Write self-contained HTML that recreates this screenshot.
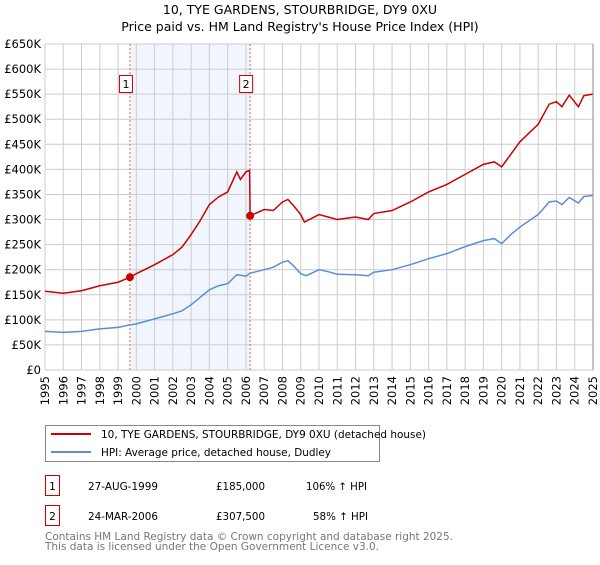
<!DOCTYPE html>
<html><head><meta charset="utf-8"><style>
body{margin:0;background:#fff;font-family:"Liberation Sans","DejaVu Sans",sans-serif;}
svg text{font-family:"DejaVu Sans","Liberation Sans",sans-serif;}
</style></head><body>
<svg id="c" width="600" height="560" xmlns="http://www.w3.org/2000/svg">
<text x="300" y="14" text-anchor="middle" font-size="12.5">10, TYE GARDENS, STOURBRIDGE, DY9 0XU</text>
<text x="300" y="31" text-anchor="middle" font-size="12.5">Price paid vs. HM Land Registry's House Price Index (HPI)</text>
<g id="plot"></g>
<g>
<rect x="45.5" y="425.5" width="334" height="36" fill="#fff" stroke="#888"/>
<line x1="51" y1="434" x2="91" y2="434" stroke="#cc0000" stroke-width="2"/>
<text x="101" y="438" font-size="10.5" textLength="325" lengthAdjust="spacingAndGlyphs">10, TYE GARDENS, STOURBRIDGE, DY9 0XU (detached house)</text>
<line x1="51" y1="452" x2="91" y2="452" stroke="#5b8fd4" stroke-width="2"/>
<text x="101" y="456" font-size="10.5" textLength="230" lengthAdjust="spacingAndGlyphs">HPI: Average price, detached house, Dudley</text>
</g>
<g font-size="10.5">
<rect x="45.5" y="475.5" width="14" height="20" fill="#fff" stroke="#cc0000"/>
<text x="52.5" y="490" text-anchor="middle">1</text>
<text x="88" y="490" textLength="70" lengthAdjust="spacingAndGlyphs">27-AUG-1999</text><text x="216" y="490" textLength="49" lengthAdjust="spacingAndGlyphs">£185,000</text><text x="306" y="490" textLength="61" lengthAdjust="spacingAndGlyphs">106% ↑ HPI</text>
<rect x="45.5" y="505.5" width="14" height="20" fill="#fff" stroke="#cc0000"/>
<text x="52.5" y="520" text-anchor="middle">2</text>
<text x="88" y="520" textLength="70" lengthAdjust="spacingAndGlyphs">24-MAR-2006</text><text x="216" y="520" textLength="49" lengthAdjust="spacingAndGlyphs">£307,500</text><text x="313" y="520" textLength="55" lengthAdjust="spacingAndGlyphs">58% ↑ HPI</text>
</g>
<g font-size="10.5" fill="#777">
<text x="45" y="540" textLength="408" lengthAdjust="spacingAndGlyphs">Contains HM Land Registry data © Crown copyright and database right 2025.</text>
<text x="45" y="550" textLength="334" lengthAdjust="spacingAndGlyphs">This data is licensed under the Open Government Licence v3.0.</text>
</g>
</svg>
<script>
const hpiYears=[1995,1996,1997,1998,1999,1999.65,2000,2001,2002,2002.5,2003,2003.5,2004,2004.5,2005,2005.5,2006,2006.23,2007,2007.5,2008,2008.3,2008.6,2009,2009.3,2010,2010.5,2011,2012,2012.7,2013,2014,2015,2016,2017,2018,2019,2019.6,2020,2020.5,2021,2022,2022.6,2023,2023.3,2023.7,2024.2,2024.5,2025];
const hpiValues=[77,75,77,82,85,90,92,102,112,118,130,145,160,168,172,190,187,193,200,205,215,218,208,192,188,200,196,191,190,188,195,200,210,222,232,246,258,262,252,270,285,310,335,337,330,344,333,346,348];
const propYears=[1995,1996,1997,1998,1999,1999.65,2000,2001,2002,2002.5,2003,2003.5,2004,2004.5,2005,2005.5,2005.7,2006,2006.2,2006.23,2007,2007.5,2008,2008.3,2008.6,2009,2009.2,2010,2010.5,2011,2012,2012.7,2013,2014,2015,2016,2017,2018,2019,2019.6,2020,2020.5,2021,2022,2022.6,2023,2023.3,2023.7,2024.2,2024.5,2025];
const propValues=[157,153,158,168,175,185,192,210,230,245,270,298,330,345,355,395,380,395,398,307.5,320,318,335,340,328,310,295,310,305,300,305,300,312,318,335,355,370,390,410,415,405,430,455,490,530,535,525,548,525,547,550];
const saleYears=[1999.65,2006.23];
const saleValues=[185,307.5];
const saleLabels=["1","2"];
const yTicks=[0,50,100,150,200,250,300,350,400,450,500,550,600,650];
const yTickLabels=["£0","£50K","£100K","£150K","£200K","£250K","£300K","£350K","£400K","£450K","£500K","£550K","£600K","£650K"];
const xTicks=[1995,1996,1997,1998,1999,2000,2001,2002,2003,2004,2005,2006,2007,2008,2009,2010,2011,2012,2013,2014,2015,2016,2017,2018,2019,2020,2021,2022,2023,2024,2025];

const X0=45,X1=593,Y0=370,Y1=44;
const xs=y=>X0+(y-1995)/30*(X1-X0);
const ys=v=>Y0-v/650*(Y0-Y1);
const NS="http://www.w3.org/2000/svg";
const g=document.getElementById('plot');
function mk(t,a,parent){const e=document.createElementNS(NS,t);for(const k in a)e.setAttribute(k,a[k]);(parent||g).appendChild(e);return e;}
let e=mk('rect',{x:xs(saleYears[0]),y:Y1,width:xs(saleYears[1])-xs(saleYears[0]),height:Y0-Y1,fill:'#eef3fc',opacity:0.8});


xTicks.forEach((t,i)=>{
 let l=mk('line',{x1:xs(t),x2:xs(t),y1:Y1,y2:Y0,stroke:'#ccc','stroke-width':1});
 
 
 let grp=mk('g',{transform:'translate('+(xs(t)+4)+','+(Y0+6)+') rotate(-90)'});
 let tx=mk('text',{x:0,y:0,'font-size':11.5,'text-anchor':'end'},grp);
 tx.textContent=t;
 
 
});
yTicks.forEach((t,i)=>{
 let l=mk('line',{x1:X0,x2:X1,y1:ys(t),y2:ys(t),stroke:'#ccc','stroke-width':1});
 
 
 let tx=mk('text',{x:41,y:ys(t)+4,'font-size':11.5,'text-anchor':'end'});
 tx.textContent=yTickLabels[i];
 
 
});
saleYears.forEach((s,i)=>{
 let l=mk('line',{x1:xs(s),x2:xs(s),y1:Y1,y2:Y0,stroke:'#e06666','stroke-width':1,'stroke-dasharray':'2,2'});
 
 
 let r=mk('rect',{x:xs(s)-10.5,y:75.5,width:13,height:17,fill:'#fff',stroke:'#cc0000'});
 
 
 let tx=mk('text',{x:xs(s)-4,y:88,'font-size':11,'text-anchor':'middle'});
 tx.textContent=saleLabels[i];
 
 
});
let p1=mk('polyline',{points:hpiYears.map((y,i)=>xs(y)+','+ys(hpiValues[i])).join(' '),fill:'none',stroke:'#5b8fd4','stroke-width':1.5});


let p2=mk('polyline',{points:propYears.map((y,i)=>xs(y)+','+ys(propValues[i])).join(' '),fill:'none',stroke:'#cc0000','stroke-width':1.5});


saleYears.forEach((s,i)=>{
 let c=mk('circle',{cx:xs(s),cy:ys(saleValues[i]),r:4,fill:'#cc0000'});
 
 
});
let ax=mk('line',{x1:X1,x2:X1,y1:Y1,y2:Y0,stroke:'#888','stroke-width':1});


</script>
</body></html>
